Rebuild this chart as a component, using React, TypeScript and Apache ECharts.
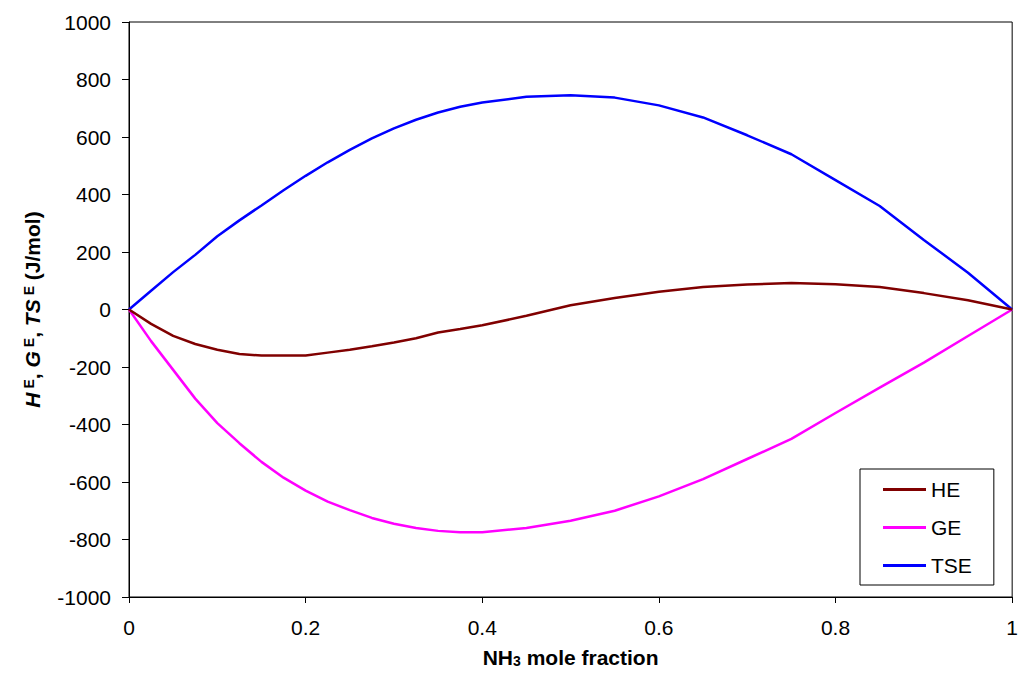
import React, { useEffect, useRef } from "react";
import * as echarts from "echarts";

// NH3 mole fraction grid shared by the three excess-property curves
const molFraction = [
  0, 0.025, 0.05, 0.075, 0.1, 0.125, 0.15, 0.175, 0.2, 0.225, 0.25, 0.275, 0.3,
  0.325, 0.35, 0.375, 0.4, 0.45, 0.5, 0.55, 0.6, 0.65, 0.7, 0.75, 0.8, 0.85,
  0.9, 0.95, 1,
];

// Excess enthalpy H^E (J/mol)
const heValues = [
  0, -50, -92, -120, -140, -155, -160, -160, -160, -150, -140, -128, -115,
  -100, -80, -68, -55, -22, 15, 40, 62, 78, 87, 92, 88, 78, 57, 32, 0,
];

// Excess Gibbs energy G^E (J/mol)
const geValues = [
  0, -110, -210, -310, -395, -465, -530, -585, -630, -668, -698, -725, -745,
  -760, -770, -775, -775, -760, -735, -700, -650, -590, -520, -450, -360, -272,
  -185, -92, 0,
];

// T·S^E (J/mol)
const tseValues = [
  0, 65, 130, 190, 255, 310, 362, 415, 465, 512, 555, 595, 630, 660, 685, 705,
  720, 740, 745, 737, 710, 668, 606, 540, 450, 360, 242, 128, 0,
];

const seriesNames = ["HE", "GE", "TSE"];
const seriesColors = ["#800000", "#FF00FF", "#0000FF"];

const FONT = "'Liberation Sans', Arial, Helvetica, sans-serif";

export default function App() {
  const ref = useRef<HTMLDivElement>(null);

  useEffect(() => {
    if (!ref.current) return;
    const chart = echarts.init(ref.current, null, { renderer: "svg" });
    const valueSets = [heValues, geValues, tseValues];

    chart.setOption({
      animation: false,
      backgroundColor: "#ffffff",
      textStyle: { fontFamily: FONT, color: "#000" },
      grid: {
        left: 129,
        right: 2,
        top: 22,
        bottom: 75,
        show: true,
        borderColor: "#000",
        borderWidth: 1,
        backgroundColor: "transparent",
      },
      legend: {
        orient: "vertical",
        left: 860,
        top: 469,
        padding: [10, 22, 9, 23],
        borderColor: "#000",
        borderWidth: 1,
        backgroundColor: "#fff",
        icon: "rect",
        itemWidth: 43,
        itemHeight: 3,
        itemGap: 17,
        textStyle: {
          fontFamily: FONT,
          fontSize: 21,
          lineHeight: 21,
          color: "#000",
        },
        data: seriesNames,
      },
      xAxis: {
        type: "value",
        min: 0,
        max: 1,
        interval: 0.2,
        name: "{b|NH}{sub|3}{b| mole fraction}",
        nameLocation: "middle",
        nameGap: 50,
        nameTextStyle: {
          rich: {
            b: { fontFamily: FONT, fontSize: 21, fontWeight: "bold", color: "#000" },
            sub: {
              fontFamily: FONT,
              fontSize: 14,
              fontWeight: "bold",
              color: "#000",
              verticalAlign: "bottom",
              padding: [6, 0, 0, 0],
            },
          },
        },
        axisLine: { show: true, onZero: false, lineStyle: { color: "#000", width: 1 } },
        axisTick: { show: true, inside: false, length: 6, lineStyle: { color: "#000" } },
        axisLabel: {
          fontFamily: FONT,
          fontSize: 21,
          color: "#000",
          margin: 20,
          formatter: (v: number) => String(v),
        },
        splitLine: { show: false },
      },
      yAxis: {
        type: "value",
        min: -1000,
        max: 1000,
        interval: 200,
        name:
          "{i|H}{s|E}{n|, }{i|G}{s|E}{n|, }{i|TS}{s|E}{n| (J/mol)}",
        nameLocation: "middle",
        nameRotate: 90,
        nameGap: 86,
        nameTextStyle: {
          rich: {
            i: {
              fontFamily: FONT,
              fontSize: 21,
              fontWeight: "bold",
              fontStyle: "italic",
              color: "#000",
            },
            s: {
              fontFamily: FONT,
              fontSize: 14,
              fontWeight: "bold",
              color: "#000",
              verticalAlign: "top",
              padding: [0, 0, 0, 4],
            },
            n: { fontFamily: FONT, fontSize: 21, fontWeight: "bold", color: "#000" },
          },
        },
        axisLine: { show: true, onZero: false, lineStyle: { color: "#000", width: 1 } },
        axisTick: { show: true, inside: false, length: 7, lineStyle: { color: "#000" } },
        axisLabel: {
          fontFamily: FONT,
          fontSize: 21,
          color: "#000",
          margin: 18,
          formatter: (v: number) => String(v),
        },
        splitLine: { show: false },
      },
      series: seriesNames.map((name, k) => ({
        name,
        type: "line",
        data: molFraction.map((x, i) => [x, valueSets[k][i]]),
        showSymbol: false,
        symbol: "none",
        smooth: false,
        lineStyle: { color: seriesColors[k], width: 2.5 },
        itemStyle: { color: seriesColors[k] },
        z: 3 - k,
      })),
    });

    return () => chart.dispose();
  }, []);

  return (
    <div
      ref={ref}
      style={{ position: "fixed", left: 0, top: 0, width: 1021, height: 673 }}
    />
  );
}
